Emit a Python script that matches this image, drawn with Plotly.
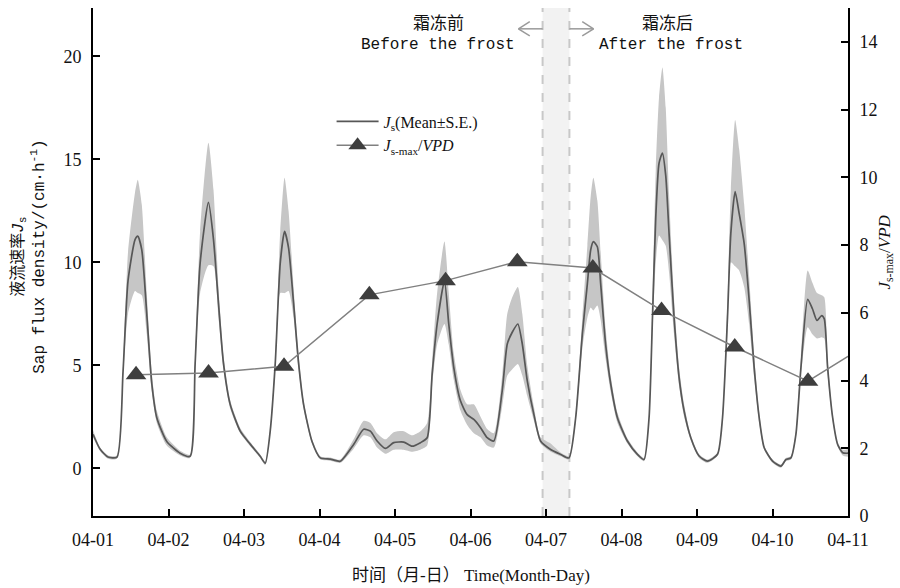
import plotly.graph_objects as go

# ---- data ----
# time in days since 04-01 00:00
t_days = [0.000, 0.093, 0.199, 0.318, 0.398, 0.464, 0.557, 0.593, 0.646, 0.712, 0.779, 0.845, 0.977,
          1.154, 1.286, 1.353, 1.419, 1.529, 1.596, 1.662, 1.728, 1.817, 1.950,
          2.082, 2.215, 2.281, 2.347, 2.414, 2.480, 2.537, 2.590, 2.657, 2.723, 2.789, 2.901,
          3.011, 3.143, 3.276, 3.452, 3.585, 3.674, 3.763, 3.873, 3.983,
          4.115, 4.227, 4.337, 4.426, 4.492, 4.558, 4.655, 4.712, 4.778, 4.867, 4.956,
          5.044, 5.133, 5.221, 5.309, 5.420, 5.487, 5.553, 5.627, 5.686, 5.752, 5.840, 5.928,
          6.061, 6.194, 6.304, 6.393, 6.481, 6.548, 6.592, 6.627, 6.680, 6.724, 6.790, 6.857, 6.946,
          7.078, 7.211, 7.298, 7.365, 7.410, 7.454, 7.497, 7.542, 7.586, 7.630, 7.696, 7.763, 7.829, 7.918,
          8.028, 8.139, 8.272, 8.338, 8.404, 8.448, 8.505, 8.558, 8.625, 8.691, 8.757, 8.824, 8.890,
          9.001, 9.111, 9.178, 9.244, 9.310, 9.377, 9.466, 9.529, 9.589, 9.651, 9.686, 9.730, 9.797, 9.863, 9.930,
          10.013]

js_mean = [1.65, 0.93, 0.54, 0.54, 4.7, 9.1, 11.1, 11.27, 10.6, 7.5, 4.1, 2.45, 1.3,
           0.73, 0.58, 5.1, 9.95, 12.9, 11.1, 8.0, 5.1, 3.1, 1.8,
           1.17, 0.58, 0.24, 1.8, 5.1, 9.95, 11.5, 10.7, 8.0, 5.1, 3.1, 1.3,
           0.5, 0.44, 0.34, 1.15, 1.89, 1.8, 1.32, 0.96, 1.24,
           1.27, 1.07, 1.24, 1.48, 4.57, 7.0, 9.1, 7.0, 4.9, 3.27, 2.6,
           2.37, 1.97, 1.48, 1.32, 3.76, 6.03, 6.6, 7.0, 6.03, 4.24, 2.6, 1.32,
           0.91, 0.67, 0.5, 2.45, 6.5, 8.96, 10.6, 11.0, 10.75, 8.96, 6.0, 4.1, 2.45,
           1.32, 0.67, 0.42, 2.45, 7.3, 12.2, 14.8, 15.3, 14.2, 11.4, 7.33, 4.4, 2.78, 1.48,
           0.59, 0.34, 0.68, 2.45, 7.33, 11.4, 13.43, 12.37, 10.9, 8.15, 4.9, 2.45, 0.99,
           0.34, 0.1, 0.42, 0.5, 1.64, 4.9, 8.2, 7.74, 7.17, 7.41, 7.25, 4.9, 2.45, 1.15, 0.75,
           0.73]

js_lower = [1.5, 0.83, 0.46, 0.46, 4.4, 7.5, 8.6, 8.5, 8.4, 6.5, 3.7, 2.2, 1.1,
            0.62, 0.5, 4.8, 8.5, 9.85, 9.8, 7.3, 4.8, 2.9, 1.7,
            1.08, 0.5, 0.16, 1.7, 4.8, 8.5, 8.5, 8.6, 7.3, 4.8, 2.9, 1.2,
            0.42, 0.36, 0.26, 0.95, 1.6, 1.5, 1.0, 0.7, 0.9,
            0.9, 0.8, 0.9, 1.1, 4.0, 6.0, 7.0, 6.0, 4.3, 2.8, 2.1,
            1.7, 1.5, 1.1, 1.0, 3.0, 4.5, 4.8, 5.06, 4.5, 3.5, 2.3, 1.2,
            0.8, 0.58, 0.42, 2.3, 5.8, 7.3, 7.8, 7.66, 7.9, 7.2, 5.3, 3.7, 2.2,
            1.2, 0.58, 0.34, 2.3, 6.5, 10.0, 11.3, 11.07, 10.8, 9.5, 6.5, 4.0, 2.5, 1.35,
            0.5, 0.26, 0.6, 2.3, 6.6, 10.0, 9.8, 9.6, 8.8, 7.0, 4.4, 2.2, 0.9,
            0.26, 0.02, 0.34, 0.42, 1.5, 4.5, 6.84, 6.5, 6.3, 6.36, 6.3, 4.5, 2.3, 1.05, 0.62,
            0.55]

js_upper = [1.85, 1.0, 0.62, 0.62, 5.0, 10.5, 13.4, 14.0, 12.8, 8.5, 4.6, 2.8, 1.5,
            0.85, 0.66, 5.4, 11.5, 15.8, 13.5, 8.8, 5.5, 3.3, 1.95,
            1.27, 0.66, 0.32, 1.9, 5.4, 11.5, 14.1, 12.5, 8.8, 5.5, 3.3, 1.4,
            0.58, 0.52, 0.42, 1.4, 2.3, 2.2, 1.7, 1.4, 1.75,
            1.8, 1.6, 1.8, 2.2, 5.2, 8.5, 11.0, 8.5, 5.6, 3.8, 3.1,
            3.1, 2.5, 1.9, 1.7, 4.5, 7.5, 8.3, 8.8, 7.5, 5.0, 3.0, 1.5,
            1.2, 0.76, 0.58, 2.6, 7.3, 10.8, 13.2, 14.1, 13.0, 10.5, 6.8, 4.5, 2.7,
            1.45, 0.76, 0.5, 2.6, 8.2, 14.5, 18.0, 19.45, 17.5, 13.3, 8.2, 4.9, 3.1, 1.6,
            0.68, 0.42, 0.76, 2.6, 8.2, 13.5, 16.9, 15.5, 12.8, 9.3, 5.5, 2.7, 1.08,
            0.42, 0.18, 0.5, 0.58, 1.8, 5.4, 9.6, 9.0, 8.5, 8.4, 8.3, 5.3, 2.6, 1.25, 0.9,
            0.95]

# Js-max / VPD (right axis)
ratio_days = [0.57, 1.53, 2.53, 3.66, 4.67, 5.62, 6.62, 7.53, 8.50, 9.47, 10.47]
ratio_vals = [4.17, 4.22, 4.42, 6.53, 6.95, 7.51, 7.32, 6.07, 4.99, 3.98, 5.36]

x_tick_vals = [0, 1, 2, 3, 4, 5, 6, 7, 8, 9, 10]
x_tick_text = ["04-01", "04-02", "04-03", "04-04", "04-05", "04-06",
               "04-07", "04-08", "04-09", "04-10", "04-11"]
y_left_ticks = [0, 5, 10, 15, 20]
y_right_ticks = [0, 2, 4, 6, 8, 10, 12, 14]

frost_start, frost_end = 5.955, 6.31

FONT = "Liberation Serif, Noto Sans CJK SC"
MONO = "Liberation Mono, Noto Sans CJK SC"
SMOOTH = 0.6

fig = go.Figure()

# S.E. band
fig.add_trace(go.Scatter(x=t_days, y=js_upper, mode="lines",
                         line=dict(width=0, color="#c6c6c6", shape="spline", smoothing=SMOOTH),
                         showlegend=False, hoverinfo="skip"))
fig.add_trace(go.Scatter(x=t_days, y=js_lower, mode="lines",
                         line=dict(width=0, color="#c6c6c6", shape="spline", smoothing=SMOOTH),
                         fill="tonexty", fillcolor="#c6c6c6", showlegend=False, hoverinfo="skip"))
# mean line
fig.add_trace(go.Scatter(x=t_days, y=js_mean, mode="lines",
                         line=dict(width=1.7, color="#575757", shape="spline", smoothing=SMOOTH),
                         name="<i>J</i><sub>s</sub>(Mean±S.E.)"))
# ratio line
fig.add_trace(go.Scatter(x=ratio_days, y=ratio_vals, yaxis="y2", mode="lines+markers",
                         line=dict(width=1.5, color="#808080"),
                         marker=dict(symbol="triangle-up", size=18, color="#3e3e3e",
                                     line=dict(width=0)),
                         cliponaxis=True,
                         name="<i>J</i><sub>s-max</sub>/<i>VPD</i>"))

shapes = [
    dict(type="rect", xref="x", yref="paper", x0=frost_start, x1=frost_end, y0=0, y1=1,
         fillcolor="#f2f2f2", line=dict(width=0), layer="below"),
    dict(type="line", xref="x", yref="paper", x0=frost_start, x1=frost_start, y0=0, y1=1,
         line=dict(color="#c8c8c8", width=2, dash="dash"), layer="below"),
    dict(type="line", xref="x", yref="paper", x0=frost_end, x1=frost_end, y0=0, y1=1,
         line=dict(color="#c8c8c8", width=2, dash="dash"), layer="below"),
]
# chevron arrows near the top
arrow_len = 0.32
ay = 0.959
for base, direction in [(frost_start, -1), (frost_end, 1)]:
    tip = base + direction * arrow_len
    shapes.append(dict(type="line", xref="x", yref="paper", x0=base, x1=tip, y0=ay, y1=ay,
                       line=dict(color="#9a9a9a", width=1.5)))
    for dy in (0.014, -0.014):
        shapes.append(dict(type="line", xref="x", yref="paper", x0=tip, x1=tip - direction * 0.15,
                           y0=ay, y1=ay + dy, line=dict(color="#9a9a9a", width=1.5)))

annotations = [
    dict(text="霜冻前", x=4.576, y=0.993, xref="x", yref="paper", showarrow=False,
         font=dict(family=FONT, size=17, color="#111")),
    dict(text="Before the frost", x=4.576, y=0.949, xref="x", yref="paper", showarrow=False,
         font=dict(family=MONO, size=16, color="#111")),
    dict(text="霜冻后", x=7.61, y=0.993, xref="x", yref="paper", showarrow=False,
         font=dict(family=FONT, size=17, color="#111")),
    dict(text="After the frost", x=7.65, y=0.949, xref="x", yref="paper", showarrow=False,
         font=dict(family=MONO, size=16, color="#111")),
    dict(text="液流速率<i>J</i><sub>s</sub><br>Sap flux density/(cm·h<sup>-1</sup>)",
         x=-0.085, y=0.51, xref="paper", yref="paper", showarrow=False, textangle=-90,
         font=dict(family=MONO, size=16, color="#111"), xanchor="center", yanchor="middle"),
    dict(text="<i>J</i><sub>s-max</sub>/<i>VPD</i>",
         x=1.05, y=0.52, xref="paper", yref="paper", showarrow=False, textangle=-90,
         font=dict(family=FONT, size=17, color="#111"), xanchor="center", yanchor="middle"),
    dict(text="时间（月-日） Time(Month-Day)", x=0.5, y=-0.118, xref="paper", yref="paper",
         showarrow=False, font=dict(family=FONT, size=17, color="#111"),
         xanchor="center", yanchor="middle"),
]

fig.update_layout(
    width=900, height=588,
    margin=dict(l=93, r=52, t=8, b=72),
    paper_bgcolor="white", plot_bgcolor="white",
    font=dict(family=FONT, size=17, color="#111"),
    shapes=shapes, annotations=annotations,
    legend=dict(x=0.316, y=0.81, xanchor="left", yanchor="top", bgcolor="rgba(0,0,0,0)",
                font=dict(family=FONT, size=16, color="#111"), tracegroupgap=0,
                traceorder="normal", itemwidth=42),
    xaxis=dict(range=[0, 10], tickvals=x_tick_vals, ticktext=x_tick_text, ticks="inside",
               ticklen=7, tickwidth=1.5, tickcolor="black", showline=True, linewidth=2,
               linecolor="black", showgrid=False, zeroline=False, ticklabelstandoff=6,
               tickfont=dict(family=FONT, size=18)),
    yaxis=dict(range=[-2.32, 22.34], tickvals=y_left_ticks, ticks="inside", ticklen=7,
               tickwidth=1.5, tickcolor="black", showline=True, linewidth=2, linecolor="black",
               showgrid=False, zeroline=False, ticklabelstandoff=6,
               tickfont=dict(family=FONT, size=18)),
    yaxis2=dict(range=[0, 15], tickvals=y_right_ticks, overlaying="y", side="right",
                ticks="inside", ticklen=7, tickwidth=1.5, tickcolor="black", showline=True,
                linewidth=2, linecolor="black", showgrid=False, zeroline=False,
                ticklabelstandoff=6, tickfont=dict(family=FONT, size=18)),
)

fig.write_html("out.html")
